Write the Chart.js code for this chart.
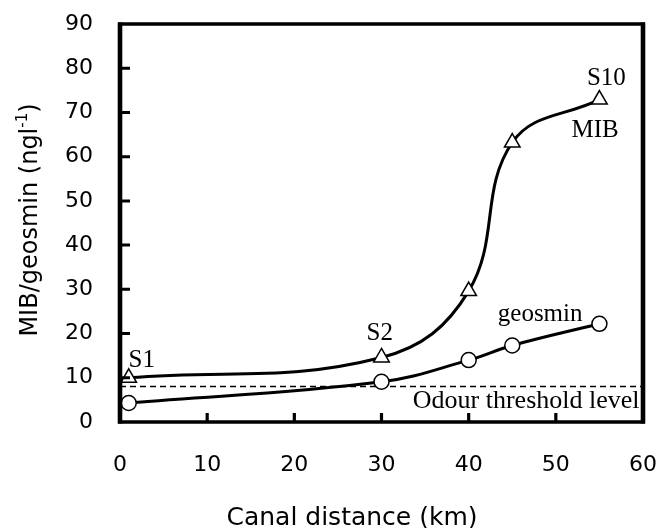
<!DOCTYPE html>
<html>
<head>
<meta charset="utf-8">
<script src="https://cdn.jsdelivr.net/npm/chart.js@4.4.1/dist/chart.umd.min.js"></script>
<style>
  html, body { margin: 0; padding: 0; background: #fff; }
  #wrap { width: 663px; height: 528px; }
</style>
</head>
<body>
<div id="wrap"><canvas id="chart"></canvas></div>
<script>
// sampling points along the canal (km)
const distances = [1, 30, 40, 45, 55];
const mibValues = [10.0, 14.6, 29.6, 63.2, 72.9];
const geosminValues = [4.3, 9.1, 14.0, 17.3, 22.2];

const thresholdX = [0, 60];
const thresholdLevel = 8;

const xTicks = [0, 10, 20, 30, 40, 50, 60];
const yTicks = [0, 10, 20, 30, 40, 50, 60, 70, 80, 90];

const xTitle = "Canal distance (km)";
const yTitle = "MIB/geosmin (ngl";
const yTitleSup = "-1";

// text labels inside the plot, anchored in data units
const notes = [
    { text: "S1", x: 2.5, y: 12.4, align: "center" },
    { text: "S2", x: 29.8, y: 18.5, align: "center" },
    { text: "S10", x: 55.8, y: 76.2, align: "center" },
    { text: "MIB", x: 54.5, y: 64.4, align: "center" },
    { text: "geosmin", x: 48.2, y: 22.8, align: "center" },
    { text: "Odour threshold level", x: 59.6, y: 3.2, align: "right", size: 26 }
];

const sans = "'DejaVu Sans', sans-serif";
const serif = "'Liberation Serif', 'Times New Roman', serif";

const toPoints = (xs, ys) => xs.map((x, i) => ({ x, y: ys[i] }));

const framePlugin = {
    id: "frame",
    afterDraw(chart) {
        const { ctx, chartArea: a, scales: { x, y } } = chart;
        ctx.save();
        ctx.strokeStyle = "#000";
        ctx.lineCap = "butt";

        // box
        ctx.lineWidth = 3.3;
        ctx.beginPath();
        ctx.moveTo(a.left - 2, a.top);
        ctx.lineTo(a.right + 2, a.top);
        ctx.moveTo(a.left - 2, a.bottom);
        ctx.lineTo(a.right + 2, a.bottom);
        ctx.stroke();
        ctx.lineWidth = 4.6;
        ctx.beginPath();
        ctx.moveTo(a.left, a.top - 1.5);
        ctx.lineTo(a.left, a.bottom + 1.5);
        ctx.moveTo(a.right, a.top - 1.5);
        ctx.lineTo(a.right, a.bottom + 1.5);
        ctx.stroke();

        // inward tick marks
        ctx.lineWidth = 3.2;
        ctx.beginPath();
        xTicks.slice(1, -1).forEach(v => {
            const px = x.getPixelForValue(v);
            ctx.moveTo(px, a.bottom);
            ctx.lineTo(px, a.bottom - 9);
        });
        ctx.stroke();
        ctx.lineWidth = 3;
        ctx.beginPath();
        yTicks.slice(1, -1).forEach(v => {
            const py = y.getPixelForValue(v);
            ctx.moveTo(a.left, py);
            ctx.lineTo(a.left + 10, py);
        });
        ctx.stroke();

        // notes
        ctx.fillStyle = "#000";
        ctx.textBaseline = "alphabetic";
        notes.forEach(n => {
            ctx.font = (n.size || 25) + "px " + serif;
            ctx.textAlign = n.align;
            ctx.fillText(n.text, x.getPixelForValue(n.x), y.getPixelForValue(n.y));
        });

        // x title
        ctx.font = "25px " + sans;
        ctx.textAlign = "center";
        ctx.fillText(xTitle, 352, 525);

        // y title with superscript
        ctx.translate(37, (a.top + a.bottom) / 2 - 3);
        ctx.rotate(-Math.PI / 2);
        ctx.font = "24px " + sans;
        const w1 = ctx.measureText(yTitle).width;
        ctx.font = "15px " + sans;
        const w2 = ctx.measureText(yTitleSup).width;
        ctx.font = "24px " + sans;
        const w3 = ctx.measureText(")").width;
        let cx = -(w1 + w2 + w3) / 2;
        ctx.textAlign = "left";
        ctx.fillText(yTitle, cx, 0);
        cx += w1;
        ctx.font = "15px " + sans;
        ctx.fillText(yTitleSup, cx, -10);
        cx += w2;
        ctx.font = "24px " + sans;
        ctx.fillText(")", cx, 0);
        ctx.restore();
    }
};

new Chart(document.getElementById("chart"), {
    type: "line",
    data: {
        datasets: [
            {
                label: "MIB",
                data: toPoints(distances, mibValues),
                borderColor: "#000",
                borderWidth: 3,
                tension: 0.4,
                pointStyle: "triangle",
                pointRadius: 9,
                pointBorderWidth: 1.5,
                pointBackgroundColor: "#fff",
                pointBorderColor: "#000"
            },
            {
                label: "geosmin",
                data: toPoints(distances, geosminValues),
                borderColor: "#000",
                borderWidth: 3,
                tension: 0.4,
                pointStyle: "circle",
                pointRadius: 7.5,
                pointBorderWidth: 1.5,
                pointBackgroundColor: "#fff",
                pointBorderColor: "#000"
            },
            {
                label: "Odour threshold level",
                data: thresholdX.map(x => ({ x, y: thresholdLevel })),
                borderColor: "#000",
                borderWidth: 1.5,
                borderDash: [6, 4],
                pointRadius: 0,
                order: 3
            }
        ]
    },
    options: {
        responsive: true,
        maintainAspectRatio: false,
        animation: false,
        layout: { padding: { top: 24, right: 20, left: 0, bottom: 0 } },
        plugins: {
            legend: { display: false },
            tooltip: { enabled: false }
        },
        scales: {
            x: {
                type: "linear",
                min: 0,
                max: 60,
                afterBuildTicks: s => { s.ticks = xTicks.map(v => ({ value: v })); },
                afterFit: s => {
                    s.height = 106;
                    s.paddingLeft = 0;
                    s.paddingRight = 0;
                },
                grid: { display: false, drawTicks: false },
                border: { display: false },
                ticks: {
                    color: "#000",
                    padding: 30,
                    maxRotation: 0,
                    font: { family: sans, size: 22 }
                }
            },
            y: {
                min: 0,
                max: 90,
                afterBuildTicks: s => { s.ticks = yTicks.map(v => ({ value: v })); },
                afterFit: s => {
                    s.width = 120;
                    s.paddingTop = 0;
                    s.paddingBottom = 0;
                },
                grid: { display: false, drawTicks: false },
                border: { display: false },
                ticks: {
                    color: "#000",
                    padding: 27,
                    font: { family: sans, size: 22 }
                }
            }
        }
    },
    plugins: [framePlugin]
});
</script>
</body>
</html>
